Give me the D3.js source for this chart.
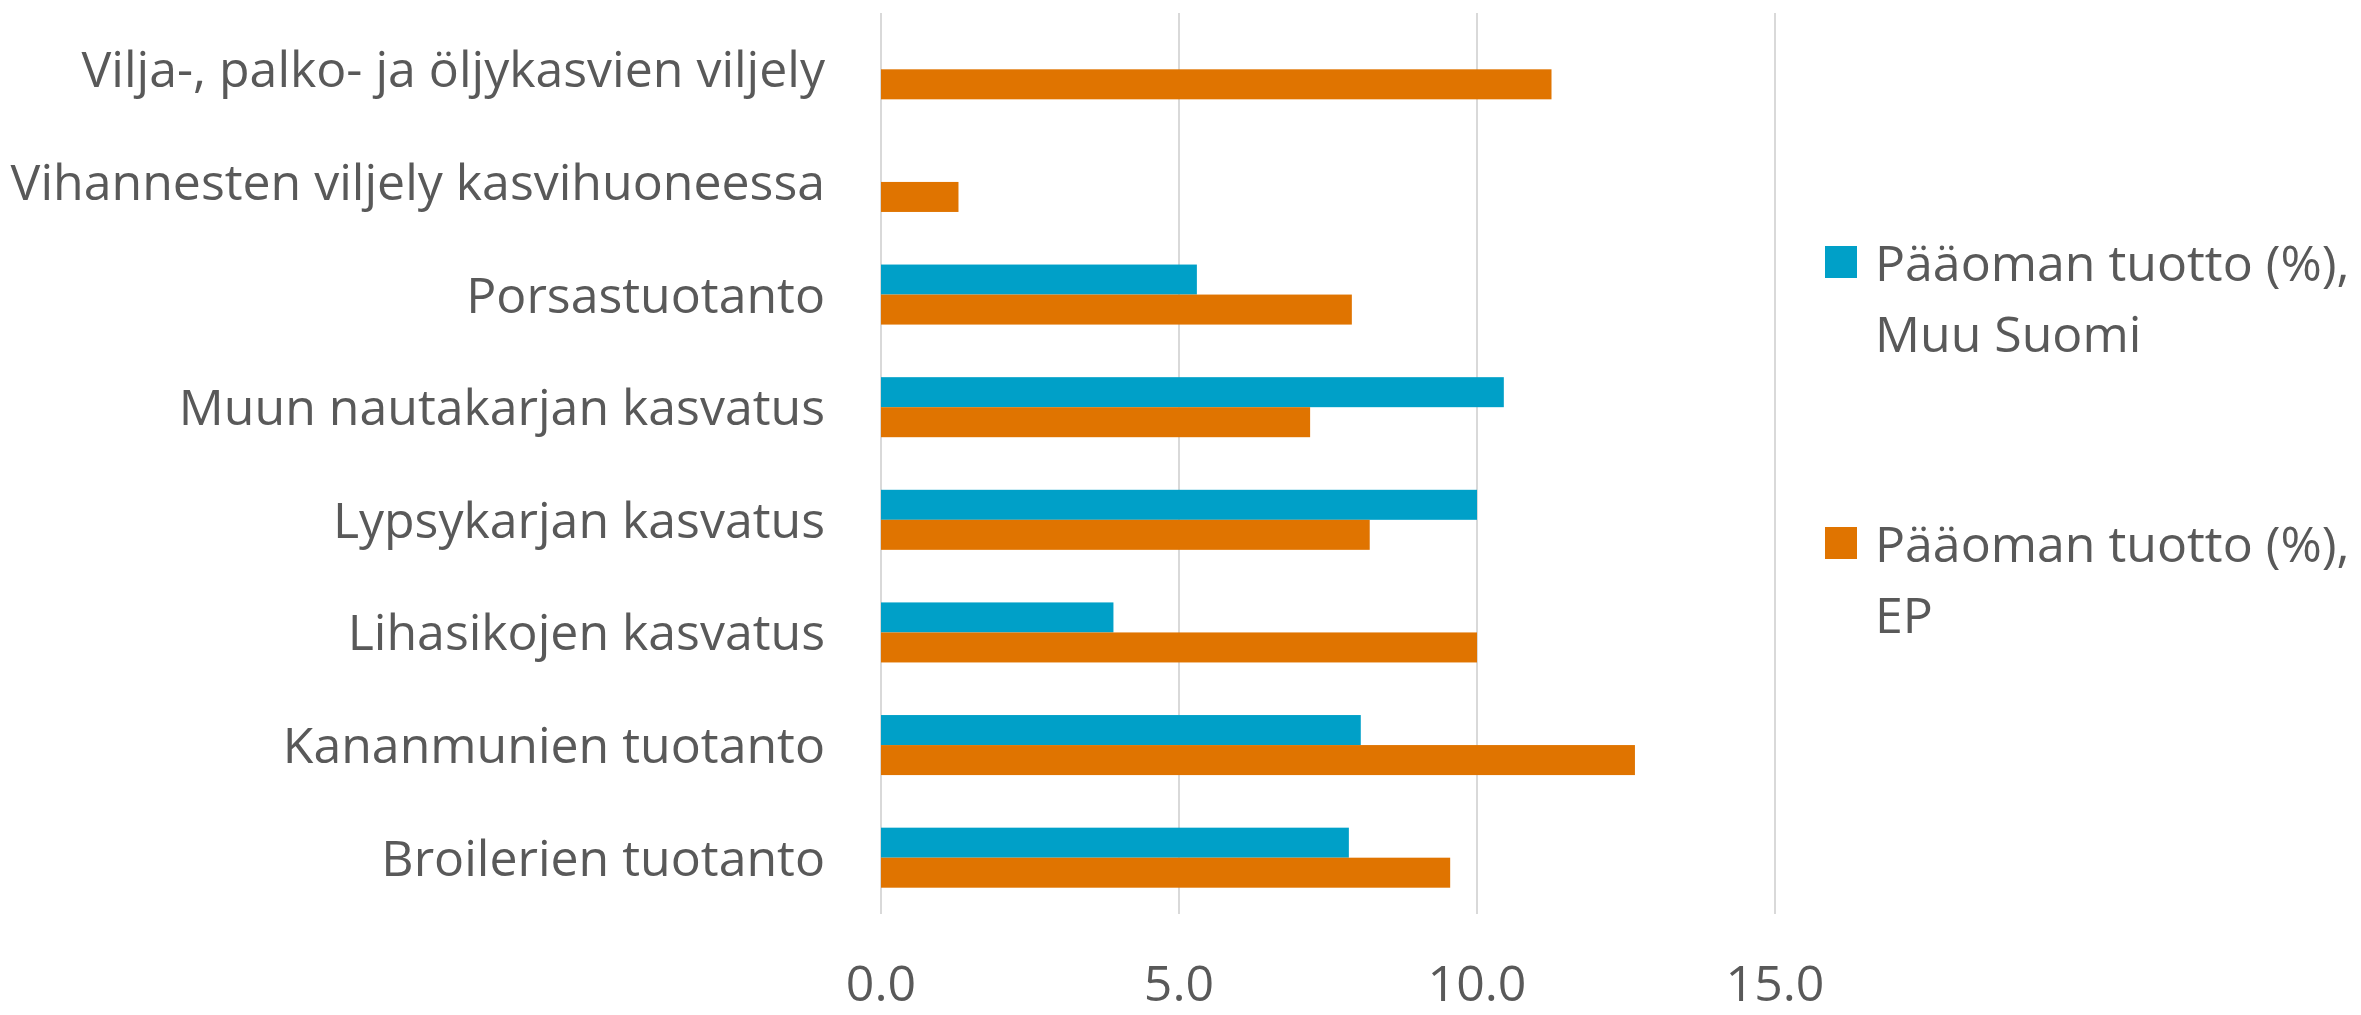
<!DOCTYPE html>
<html>
<head>
<meta charset="utf-8">
<script src="https://cdn.jsdelivr.net/npm/d3@7"></script>
<style>
  html, body { margin: 0; padding: 0; background: #fff; }
  svg { display: block; font-family: "Open Sans", "Noto Sans", sans-serif; }
  .lbl { fill: #595959; font-size: 50px; }
</style>
</head>
<body>
<svg id="chart" width="2361" height="1015"></svg>
<script>
const categories = [
  "Vilja-, palko- ja öljykasvien viljely",
  "Vihannesten viljely kasvihuoneessa",
  "Porsastuotanto",
  "Muun nautakarjan kasvatus",
  "Lypsykarjan kasvatus",
  "Lihasikojen kasvatus",
  "Kananmunien tuotanto",
  "Broilerien tuotanto"
];
// null = no bar
const muuSuomi = [null, null, 5.3, 10.45, 10.0, 3.9, 8.05, 7.85];
const ep       = [11.25, 1.3, 7.9, 7.2, 8.2, 10.0, 12.65, 9.55];
const seriesNames = [
  ["Pääoman tuotto (%),", "Muu Suomi"],
  ["Pääoman tuotto (%),", "EP"]
];
const seriesColors = ["#00A0C8", "#E07400"];
const xTicks = [0, 5, 10, 15];

const svg = d3.select("#chart");

const x = d3.scaleLinear().domain([0, 15]).range([881, 1775]);
const y = d3.scaleBand().domain(categories).range([13, 914])
  .paddingInner(0.467).paddingOuter(0.2335);
const ySub = d3.scaleBand().domain([0, 1]).range([0, y.bandwidth()]);

// gridlines
svg.append("g")
  .selectAll("line")
  .data(xTicks)
  .join("line")
  .attr("x1", d => x(d)).attr("x2", d => x(d))
  .attr("y1", 13).attr("y2", 914)
  .attr("stroke", "#d9d9d9").attr("stroke-width", 2);

// tick labels
svg.append("g")
  .selectAll("text")
  .data(xTicks)
  .join("text")
  .attr("class", "lbl")
  .attr("x", d => x(d))
  .attr("y", 1001)
  .attr("text-anchor", "middle")
  .text(d => d3.format(".1f")(d));

// bars
const rows = categories.map((c, i) => ({ cat: c, vals: [muuSuomi[i], ep[i]] }));
const bars = [];
rows.forEach(r => r.vals.forEach((v, s) => { if (v != null) bars.push({ cat: r.cat, s, v }); }));

svg.append("g")
  .selectAll("rect")
  .data(bars)
  .join("rect")
  .attr("x", x(0))
  .attr("y", d => y(d.cat) + ySub(d.s))
  .attr("width", d => x(d.v) - x(0))
  .attr("height", ySub.bandwidth())
  .attr("fill", d => seriesColors[d.s]);

// category labels
svg.append("g")
  .selectAll("text")
  .data(categories)
  .join("text")
  .attr("class", "lbl")
  .attr("x", 825)
  .attr("y", d => y(d) + y.bandwidth() / 2)
  .attr("dy", "0.36em")
  .attr("text-anchor", "end")
  .text(d => d);

// legend
const legendTop = [246, 527];
const leg = svg.append("g")
  .selectAll("g")
  .data(seriesNames)
  .join("g")
  .attr("transform", (d, i) => `translate(1825,${legendTop[i]})`);

leg.append("rect")
  .attr("width", 32).attr("height", 32)
  .attr("fill", (d, i) => seriesColors[i]);

leg.append("text")
  .attr("class", "lbl")
  .selectAll("tspan")
  .data(d => d)
  .join("tspan")
  .attr("x", 50)
  .attr("y", (d, i) => 35 + i * 71)
  .text(d => d);
</script>
</body>
</html>
